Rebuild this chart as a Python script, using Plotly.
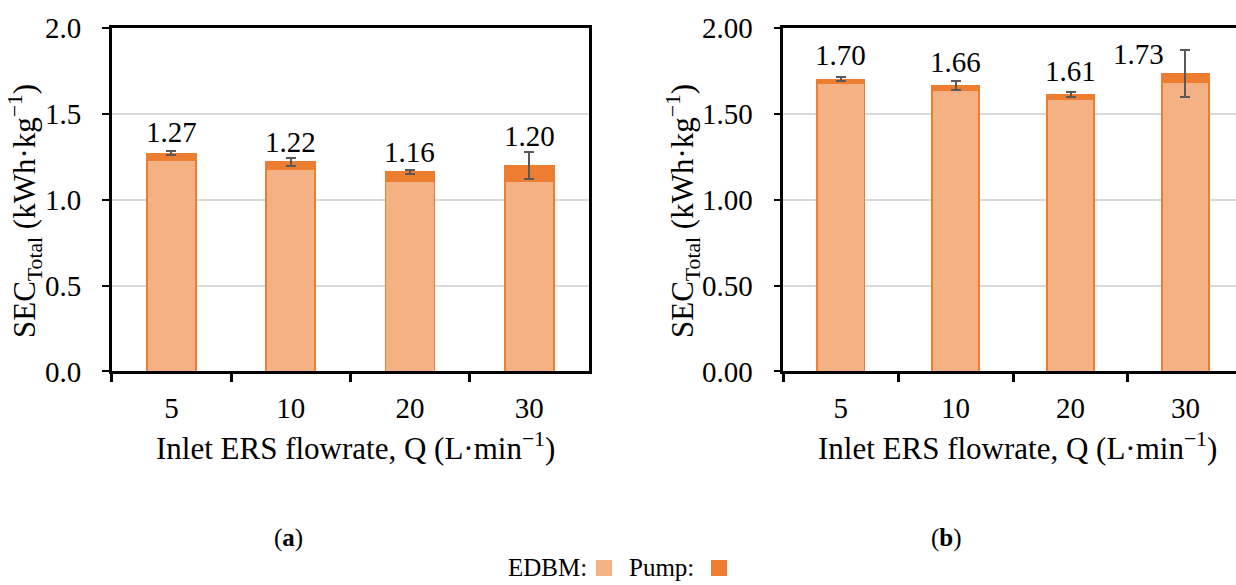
import plotly.graph_objects as go

categories = ["5", "10", "20", "30"]

# Panel (a)
edbm_a = [1.230, 1.178, 1.110, 1.110]
pump_a = [0.040, 0.044, 0.052, 0.090]
err_a = [0.012, 0.023, 0.012, 0.080]
labels_a = ["1.27", "1.22", "1.16", "1.20"]

# Panel (b)
edbm_b = [1.677, 1.638, 1.584, 1.684]
pump_b = [0.025, 0.027, 0.030, 0.050]
err_b = [0.012, 0.026, 0.013, 0.137]
labels_b = ["1.70", "1.66", "1.61", "1.73"]

yticks = [0.0, 0.5, 1.0, 1.5, 2.0]
yticktext_a = ["0.0", "0.5", "1.0", "1.5", "2.0"]
yticktext_b = ["0.00", "0.50", "1.00", "1.50", "2.00"]

# label offsets (px) - style only
lab_dy_a = [21, 20, 20, 29]
lab_dy_b = [24, 24, 23, 20]
lab_dx_b = [0, 0, 0, -47]

C_EDBM = "#F4B183"
C_PUMP = "#ED7D31"
C_ERR = "#595959"
FONT = '"Liberation Serif", "Times New Roman", Times, serif'
FS = 29
FT = 31

fig = go.Figure()

def add_panel(edbm, pump, err, xa, ya):
    fig.add_trace(go.Bar(x=categories, y=edbm, width=0.41, name="EDBM",
                         marker=dict(color=C_EDBM, line=dict(color=C_PUMP, width=1.5)),
                         xaxis=xa, yaxis=ya, showlegend=False))
    fig.add_trace(go.Bar(x=categories, y=pump, width=0.41, name="Pump",
                         marker=dict(color=C_PUMP, line=dict(color=C_PUMP, width=1.5)),
                         error_y=dict(type="data", array=err, color=C_ERR, thickness=2, width=5),
                         xaxis=xa, yaxis=ya, showlegend=False))

add_panel(edbm_a, pump_a, err_a, "x", "y")
add_panel(edbm_b, pump_b, err_b, "x2", "y2")

ydom = [0.365, 0.952]
common_x = dict(type="category", showline=True, linecolor="black", linewidth=2.5,
                ticks="outside", tickson="boundaries", ticklen=8, tickwidth=2.5, tickcolor="black",
                showgrid=False, tickfont=dict(family=FONT, size=FS, color="black"),
                ticklabelstandoff=9, mirror=True, fixedrange=True, automargin=False)
common_y = dict(range=[0, 2.0], tickvals=yticks, showline=True, linecolor="black", linewidth=2.5,
                ticks="outside", ticklen=7, tickwidth=2, tickcolor="black",
                showgrid=True, gridcolor="#D9D9D9", gridwidth=1.5,
                tickfont=dict(family=FONT, size=FS, color="black"), ticklabelstandoff=15,
                domain=ydom, zeroline=False, automargin=False, fixedrange=True)

fig.update_layout(
    template="none",
    width=1236, height=585, margin=dict(l=0, r=0, t=0, b=0, pad=0),
    font=dict(family=FONT, size=FS, color="black"),
    paper_bgcolor="white", plot_bgcolor="white", barmode="stack",
    xaxis=dict(domain=[0.0904, 0.4765], range=[-0.5, 3.5], anchor="y", **common_x),
    yaxis=dict(anchor="x", ticktext=yticktext_a, mirror=True, **common_y),
    xaxis2=dict(domain=[0.6337, 1.0], range=[-0.5, 3.44], anchor="y2", **common_x),
    yaxis2=dict(anchor="x2", ticktext=yticktext_b, mirror=False, **common_y),
)

annots = []
for i, c in enumerate(categories):
    annots.append(dict(x=i, y=edbm_a[i] + pump_a[i], xref="x", yref="y", text=labels_a[i],
                       showarrow=False, yanchor="middle", yshift=lab_dy_a[i],
                       font=dict(family=FONT, size=FS, color="black")))
    annots.append(dict(x=i, y=edbm_b[i] + pump_b[i], xref="x2", yref="y2", text=labels_b[i],
                       showarrow=False, yanchor="middle", yshift=lab_dy_b[i], xshift=lab_dx_b[i],
                       font=dict(family=FONT, size=FS, color="black")))

xtitle = "Inlet ERS flowrate, Q (L·min<sup>−1</sup>)"
ytitle = "SEC<sub>Total</sub> (kWh·kg<sup>−1</sup>)"
H = 585.0
annots += [
    dict(x=355 / 1236, y=1 - 447 / H, xref="paper", yref="paper", text=xtitle, showarrow=False,
         xanchor="center", yanchor="middle", font=dict(family=FONT, size=FT, color="black")),
    dict(x=1017 / 1236, y=1 - 447 / H, xref="paper", yref="paper", text=xtitle, showarrow=False,
         xanchor="center", yanchor="middle", font=dict(family=FONT, size=FT, color="black")),
    dict(x=25 / 1236, y=1 - 211 / H, xref="paper", yref="paper", text=ytitle, showarrow=False,
         textangle=-90, xanchor="center", yanchor="middle", font=dict(family=FONT, size=FT, color="black")),
    dict(x=683 / 1236, y=1 - 211 / H, xref="paper", yref="paper", text=ytitle, showarrow=False,
         textangle=-90, xanchor="center", yanchor="middle", font=dict(family=FONT, size=FT, color="black")),
    dict(x=288 / 1236, y=1 - 538 / H, xref="paper", yref="paper", text="(<b>a</b>)", showarrow=False,
         xanchor="center", yanchor="middle", font=dict(family=FONT, size=25, color="black")),
    dict(x=946 / 1236, y=1 - 538 / H, xref="paper", yref="paper", text="(<b>b</b>)", showarrow=False,
         xanchor="center", yanchor="middle", font=dict(family=FONT, size=25, color="black")),
    dict(x=506 / 1236, y=1 - 567 / H, xref="paper", yref="paper", text="EDBM:", showarrow=False,
         xanchor="left", yanchor="middle", font=dict(family=FONT, size=25, color="black")),
    dict(x=627 / 1236, y=1 - 567 / H, xref="paper", yref="paper", text="Pump:", showarrow=False,
         xanchor="left", yanchor="middle", font=dict(family=FONT, size=25, color="black")),
]

shapes = [
    dict(type="rect", xref="paper", yref="paper", x0=596 / 1236, x1=612 / 1236,
         y0=1 - 576 / H, y1=1 - 560 / H, fillcolor=C_EDBM, line=dict(width=0)),
    dict(type="rect", xref="paper", yref="paper", x0=711 / 1236, x1=727 / 1236,
         y0=1 - 576 / H, y1=1 - 560 / H, fillcolor=C_PUMP, line=dict(width=0)),
]

fig.update_layout(annotations=annots, shapes=shapes)
fig.write_html("out.html", config={"displayModeBar": False},
               post_script="document.body.style.margin='0px';document.body.style.overflow='hidden';")
